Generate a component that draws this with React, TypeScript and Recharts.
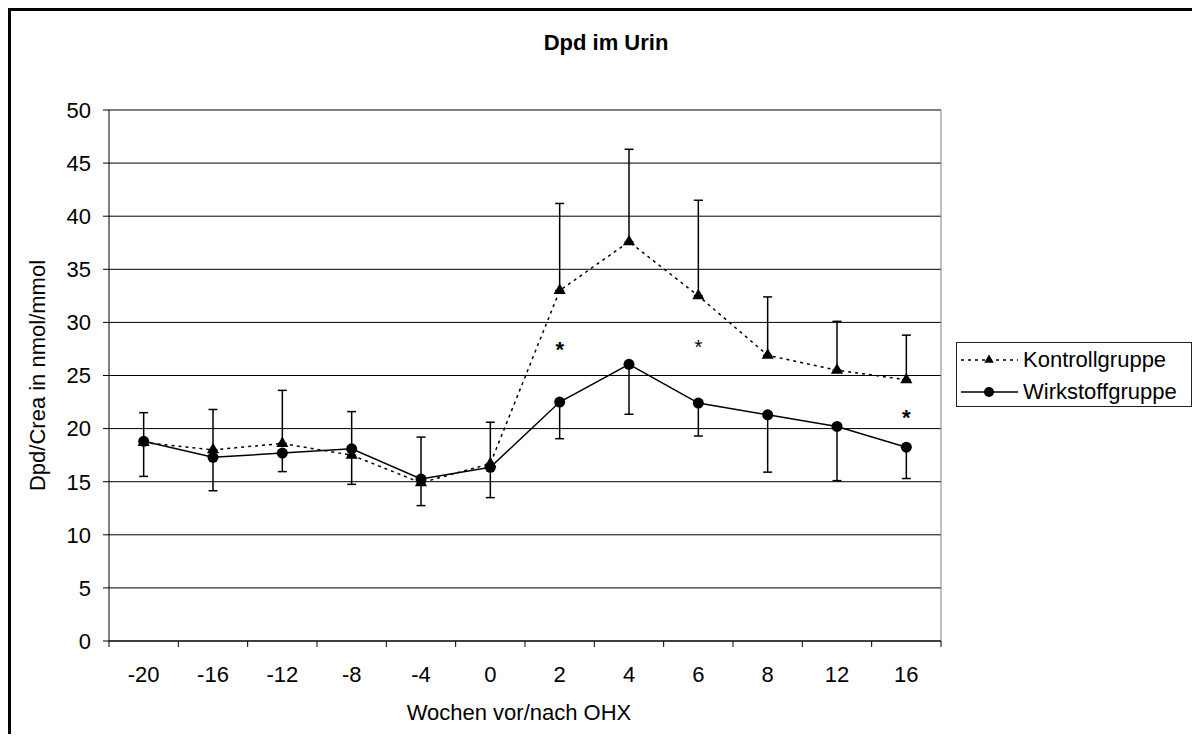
import React from 'react';
import { LineChart, Line, XAxis, YAxis, CartesianGrid, ErrorBar, Legend, Symbols } from 'recharts';

const FONT = '"Liberation Sans", Arial, sans-serif';

// Wochen vor/nach OHX
const weeks = ['-20', '-16', '-12', '-8', '-4', '0', '2', '4', '6', '8', '12', '16'];
const kontroll = [18.7, 18.0, 18.6, 17.5, 14.9, 16.7, 33.0, 37.6, 32.5, 26.9, 25.5, 24.6];
const kontrollSd = [2.8, 3.8, 5.0, 4.1, 4.3, 3.9, 8.2, 8.7, 9.0, 5.5, 4.6, 4.2];
const wirkstoff = [18.8, 17.3, 17.7, 18.1, 15.25, 16.35, 22.5, 26.05, 22.4, 21.3, 20.2, 18.25];
const wirkstoffSd = [3.3, 3.15, 1.75, 3.35, 2.5, 2.85, 3.45, 4.7, 3.1, 5.4, 5.1, 2.95];
// position of the significance stars
const signif = [null, null, null, null, null, null, 27.9, null, 28.2, null, null, 21.5];
const yTicks = [0, 5, 10, 15, 20, 25, 30, 35, 40, 45, 50];

const data = weeks.map((w, i) => ({
  week: w,
  kontroll: kontroll[i],
  kErr: [0, kontrollSd[i]],
  wirkstoff: wirkstoff[i],
  wErr: [wirkstoffSd[i], 0],
  sig: signif[i],
}));

const XTick = (props: any) => {
  const { x, y, payload, index, visibleTicksCount, width } = props;
  const half = payload.offset ?? width / visibleTicksCount / 2;
  return (
    <g>
      <line x1={x - half} x2={x - half} y1={y} y2={y + 6} stroke="#000" />
      {index === visibleTicksCount - 1 && <line x1={x + half} x2={x + half} y1={y} y2={y + 6} stroke="#000" />}
      <text x={x} y={y + 41} textAnchor="middle" fontSize={22} fill="#000" fontFamily={FONT}>
        {payload.value}
      </text>
    </g>
  );
};

const Triangle = (props: any) => {
  const { cx, cy, index } = props;
  if (cx == null || cy == null) return <g key={index} />;
  return <Symbols key={index} type="triangle" size={64} cx={cx} cy={cy} fill="#000" stroke="none" />;
};

const Star = (props: any) => {
  const { cx, cy, index, value } = props;
  if (value == null || cy == null || isNaN(cy)) return <g key={index} />;
  const small = index === 8;
  return (
    <text key={index} x={cx} y={cy + 12} textAnchor="middle" fontSize={small ? 20 : 22}
      fontWeight={small ? 'normal' : 'bold'} fill="#000" fontFamily={FONT}>
      *
    </text>
  );
};

const LegendBox = () => (
  <div style={{ width: 236, height: 65, border: '1px solid #222', boxSizing: 'border-box', background: '#fff',
    fontFamily: FONT, fontSize: 22, color: '#000', paddingTop: 1 }}>
    <div style={{ display: 'flex', alignItems: 'center', height: 32 }}>
      <svg width={64} height={20} style={{ flex: 'none' }}>
        <line x1={4} x2={61} y1={10} y2={10} stroke="#000" strokeWidth={1.5} strokeDasharray="3 4" />
        <Symbols type="triangle" size={40} cx={32} cy={10} fill="#000" />
      </svg>
      <span style={{ marginLeft: 2 }}>Kontrollgruppe</span>
    </div>
    <div style={{ display: 'flex', alignItems: 'center', height: 32 }}>
      <svg width={64} height={20} style={{ flex: 'none' }}>
        <line x1={4} x2={61} y1={10} y2={10} stroke="#000" strokeWidth={1.5} />
        <circle cx={32} cy={10} r={5} fill="#000" />
      </svg>
      <span style={{ marginLeft: 2 }}>Wirkstoffgruppe</span>
    </div>
  </div>
);

const App: React.FC = () => {
  return (
    <div style={{ position: 'relative', width: 1184, height: 726, overflow: 'hidden', fontFamily: FONT }}>
      <div style={{ position: 'absolute', left: 0, top: 0, width: 1184, height: 726, borderTop: '3px solid #000',
        borderLeft: '3px solid #000', boxSizing: 'border-box' }} />
      <div style={{ position: 'absolute', left: -8, top: -8 }}>
        <LineChart width={1200} height={742} data={data} margin={{ top: 110, right: 259, bottom: 0, left: 0 }}>
          <CartesianGrid vertical={false} stroke="#000" />
          <CartesianGrid
            stroke="#808080"
            horizontalCoordinatesGenerator={({ offset }: any) => [offset.top]}
            verticalCoordinatesGenerator={({ offset }: any) => [offset.left + offset.width]}
          />
          <XAxis dataKey="week" scale="band" height={101} tickLine={false} tickSize={0} tickMargin={0}
            axisLine={{ stroke: '#000' }} tick={<XTick />} interval={0}
            label={{
              content: (p: any) => {
                const vb = p.viewBox;
                return (
                  <text x={vb.x + vb.width / 2 - 6} y={720} textAnchor="middle" fontSize={22} fill="#000" fontFamily={FONT}>
                    Wochen vor/nach OHX
                  </text>
                );
              },
            }}
          />
          <YAxis type="number" domain={[0, 50]} ticks={yTicks} width={109} tickSize={6} tickMargin={12}
            axisLine={{ stroke: '#000' }} tickLine={{ stroke: '#000' }}
            tick={{ fontSize: 22, fill: '#000', fontFamily: FONT }} interval={0}
            label={{
              content: (p: any) => {
                const vb = p.viewBox;
                const cy = vb.y + vb.height / 2;
                return (
                  <text x={45} y={cy} transform={`rotate(-90 45 ${cy})`} textAnchor="middle" fontSize={22}
                    fill="#000" fontFamily={FONT}>
                    Dpd/Crea in nmol/mmol
                  </text>
                );
              },
            }}
          />
          <Legend layout="vertical" align="center" verticalAlign="middle" content={<LegendBox />}
            wrapperStyle={{ left: 956, top: 342, width: 236 }} />
          <Line dataKey="kontroll" name="Kontrollgruppe" stroke="#000" strokeWidth={1.5} strokeDasharray="3 4"
            dot={<Triangle />} activeDot={false} isAnimationActive={false}>
            <ErrorBar dataKey="kErr" direction="y" width={4.5} stroke="#000" strokeWidth={1.5} isAnimationActive={false} />
          </Line>
          <Line dataKey="wirkstoff" name="Wirkstoffgruppe" stroke="#000" strokeWidth={1.5}
            dot={{ r: 5.5, fill: '#000', stroke: '#000', strokeWidth: 0 }} activeDot={false} isAnimationActive={false}>
            <ErrorBar dataKey="wErr" direction="y" width={4.5} stroke="#000" strokeWidth={1.5} isAnimationActive={false} />
          </Line>
          <Line dataKey="sig" stroke="none" dot={<Star />} activeDot={false} legendType="none" isAnimationActive={false} />
        </LineChart>
      </div>
      <div style={{ position: 'absolute', left: 0, width: 1196, top: 24, textAlign: 'center', fontSize: 22,
        lineHeight: '22px', fontWeight: 'bold', color: '#000' }}>
        Dpd im Urin
      </div>
    </div>
  );
};

export default App;
